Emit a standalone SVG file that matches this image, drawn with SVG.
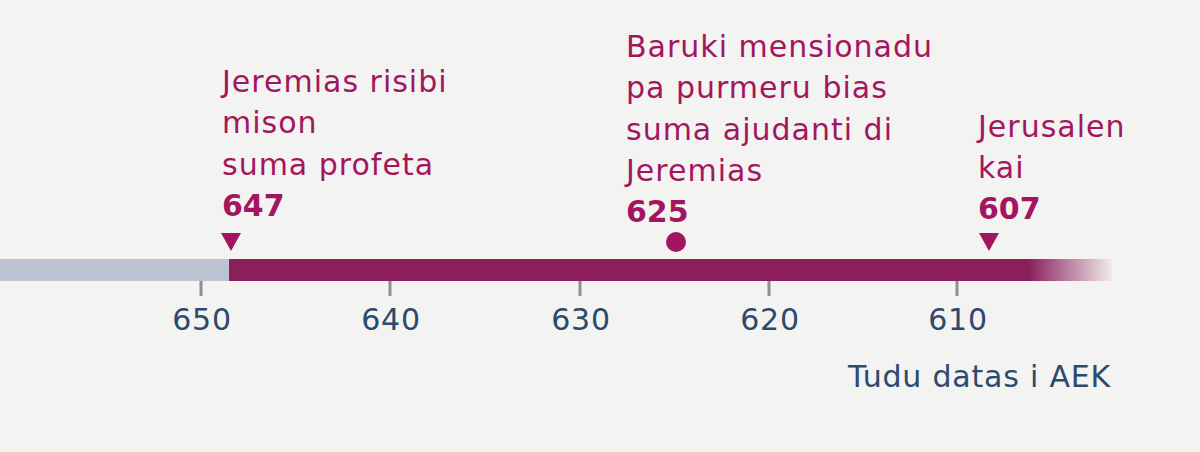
<svg xmlns="http://www.w3.org/2000/svg" width="1200" height="452" viewBox="0 0 1200 452">
<defs>
<linearGradient id="fade" x1="1000" y1="0" x2="1112" y2="0" gradientUnits="userSpaceOnUse">
<stop offset="0" stop-color="#8A1F5C"/>
<stop offset="0.25" stop-color="#8A1F5C"/>
<stop offset="1" stop-color="#8A1F5C" stop-opacity="0.04"/>
</linearGradient>
<style>
.ev{font-family:"DejaVu Sans",Verdana,sans-serif;font-size:30px;letter-spacing:1px;fill:#A3165F}
.yr{font-weight:bold;letter-spacing:0}
.ax{font-family:"DejaVu Sans",Verdana,sans-serif;font-size:30px;letter-spacing:0.8px;fill:#2D4A6E}
.tick{stroke:#8A8F99;stroke-width:3}
.mk{fill:#A3165F}
</style>
</defs>
<rect width="1200" height="452" fill="#F3F3F1"/>
<g id="timeline">
<rect x="0" y="259" width="230" height="22" fill="#BCC3D3"/>
<rect x="229" y="259" width="883" height="22" fill="url(#fade)"/>
</g>
<g id="axis">
<line class="tick" x1="201" y1="281" x2="201" y2="296"/>
<line class="tick" x1="390" y1="281" x2="390" y2="296"/>
<line class="tick" x1="580" y1="281" x2="580" y2="296"/>
<line class="tick" x1="769" y1="281" x2="769" y2="296"/>
<line class="tick" x1="957" y1="281" x2="957" y2="296"/>
<text class="ax" x="202" y="330" text-anchor="middle">650</text>
<text class="ax" x="391" y="330" text-anchor="middle">640</text>
<text class="ax" x="581" y="330" text-anchor="middle">630</text>
<text class="ax" x="770" y="330" text-anchor="middle">620</text>
<text class="ax" x="958" y="330" text-anchor="middle">610</text>
<text class="ax" x="1111" y="387" text-anchor="end">Tudu datas i AEK</text>
</g>
<g id="event-647">
<text class="ev" x="222" y="92">Jeremias risibi</text>
<text class="ev" x="222" y="133">mison</text>
<text class="ev" x="222" y="175">suma profeta</text>
<text class="ev yr" x="222" y="216">647</text>
<polygon class="mk" points="221,233 241,233 231,251"/>
</g>
<g id="event-625">
<text class="ev" x="626" y="57">Baruki mensionadu</text>
<text class="ev" x="626" y="98">pa purmeru bias</text>
<text class="ev" x="626" y="140">suma ajudanti di</text>
<text class="ev" x="626" y="181">Jeremias</text>
<text class="ev yr" x="626" y="222">625</text>
<circle class="mk" cx="676" cy="242" r="10"/>
</g>
<g id="event-607">
<text class="ev" x="978" y="137">Jerusalen</text>
<text class="ev" x="978" y="178">kai</text>
<text class="ev yr" x="978" y="219">607</text>
<polygon class="mk" points="979,233 999,233 989,251"/>
</g>
</svg>
